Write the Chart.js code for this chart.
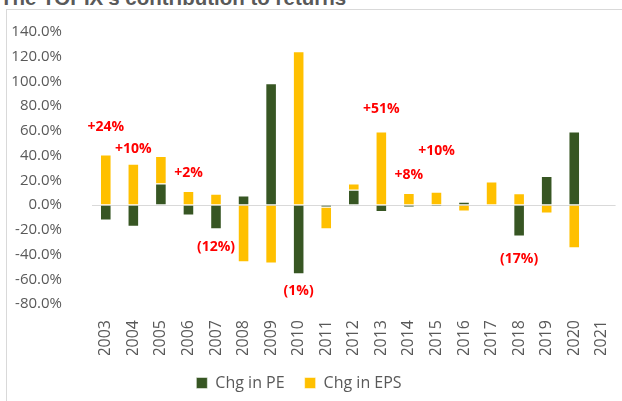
<!DOCTYPE html>
<html>
<head>
<meta charset="utf-8">
<script src="https://cdn.jsdelivr.net/npm/chart.js@4.4.0/dist/chart.umd.min.js"></script>
<style>
  html, body { margin: 0; padding: 0; }
  body { width: 622px; height: 401px; overflow: hidden; position: relative; background: #fff; }
  #frame { position: absolute; left: 6px; top: 9px; width: 700px; height: 500px; border: 1px solid #D9D9D9; }
  #title { position: absolute; left: 0; top: -13px; font: bold 20.5px "Liberation Sans", Arial, sans-serif; color: #595959; white-space: nowrap; line-height: 22px; }
  #wrap { position: absolute; left: -31px; top: 0; width: 660px; height: 401px; }
</style>
</head>
<body>
<div id="frame"></div>
<div id="title">The TOPIX's contribution to returns</div>
<div id="wrap"><canvas id="chart"></canvas></div>
<script>
const years = ['2003', '2004', '2005', '2006', '2007', '2008', '2009', '2010', '2011', '2012',
               '2013', '2014', '2015', '2016', '2017', '2018', '2019', '2020', '2021'];
const chgPE  = [-12.5, -17.5, 17.5, -8.5, -19.5, 7.8, 98.5, -56, -2, 12.5,
                -5.5, -1.8, -1.2, 2.7, 0, -25.5, 23.5, 59.5, null];
const chgEPS = [41, 33.5, 22.2, 11.3, 9.2, -46.2, -47.3, 124.5, -17.5, 4.9,
                59.5, 9.8, 10.8, -5.2, 19, 9.6, -6.8, -35, null];

// total return call-outs (year, text, height on the value axis)
const noteYears  = ['2003', '2004', '2006', '2007', '2010', '2013', '2014', '2015', '2018'];
const noteTexts  = ['+24%', '+10%', '+2%', '(12%)', '(1%)', '+51%', '+8%', '+10%', '(17%)'];
const noteLevels = [63, 45.6, 26, -33.8, -69.5, 77.5, 24.6, 44, -43.5];

const notesPlugin = {
    id: 'notes',
    afterDatasetsDraw(chart) {
        const c = chart.ctx;
        const x = chart.scales.x, y = chart.scales.y;
        c.save();
        c.font = 'bold 14px "Open Sans", sans-serif';
        c.fillStyle = '#FF0000';
        c.textAlign = 'center';
        c.textBaseline = 'middle';
        noteYears.forEach((yr, i) => {
            c.fillText(noteTexts[i], x.getPixelForValue(years.indexOf(yr)), y.getPixelForValue(noteLevels[i]));
        });
        c.restore();
    }
};

const ctx = document.getElementById('chart');

new Chart(ctx, {
    type: 'bar',
    data: {
        labels: years,
        datasets: [{
            label: 'Chg in PE',
            data: chgPE,
            backgroundColor: '#375623',
            borderColor: 'rgba(255,255,255,0.5)',
            borderWidth: 1,
            categoryPercentage: 1,
            barPercentage: 0.42,
        }, {
            label: 'Chg in EPS',
            data: chgEPS,
            backgroundColor: '#FFC000',
            borderColor: 'rgba(255,255,255,0.5)',
            borderWidth: 1,
            categoryPercentage: 1,
            barPercentage: 0.42,
        }]
    },
    options: {
        responsive: true,
        maintainAspectRatio: false,
        animation: false,
        layout: { padding: { top: 32, right: 0, bottom: 0, left: 0 } },
        plugins: {
            legend: {
                position: 'bottom',
                labels: {
                    boxWidth: 11,
                    boxHeight: 11,
                    padding: 20,
                    color: '#595959',
                    font: { family: '"Open Sans", sans-serif', size: 16 },
                }
            },
            tooltip: { enabled: false },
        },
        scales: {
            x: {
                stacked: true,
                grid: { display: false },
                border: { display: false },
                ticks: {
                    color: '#595959',
                    font: { family: '"Open Sans", sans-serif', size: 16 },
                    minRotation: 90,
                    maxRotation: 90,
                    padding: 8,
                    autoSkip: false,
                },
                afterFit: scale => { scale.height = 51; }
            },
            y: {
                stacked: true,
                min: -80,
                max: 140,
                border: { display: false },
                grid: {
                    drawTicks: false,
                    color: c => c.tick && c.tick.value === 0 ? '#D9D9D9' : 'rgba(0,0,0,0)',
                },
                ticks: {
                    stepSize: 20,
                    padding: 30,
                    color: '#595959',
                    font: { family: '"Open Sans", sans-serif', size: 15 },
                    callback: v => v.toFixed(1) + '%',
                },
                afterFit: scale => {
                    scale.width = 123;
                    scale.paddingTop = 0;
                    scale.paddingBottom = 0;
                }
            }
        }
    },
    plugins: [notesPlugin]
});
</script>
</body>
</html>
